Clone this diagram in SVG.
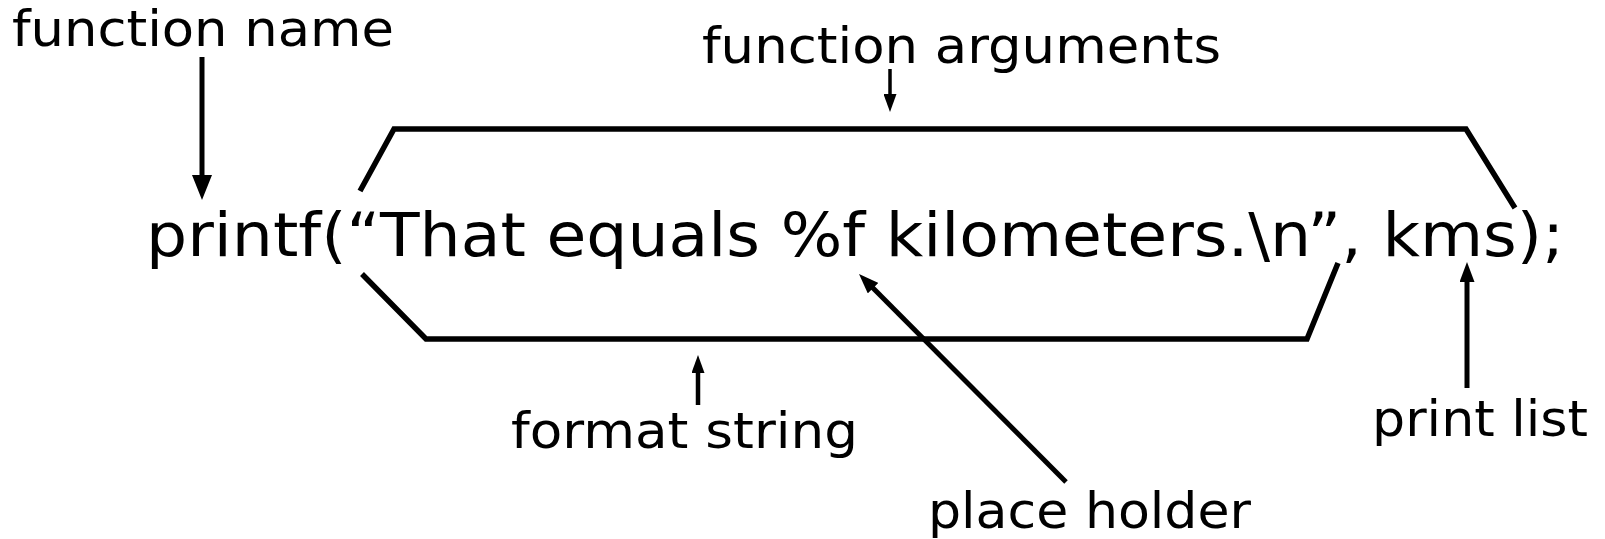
<svg xmlns="http://www.w3.org/2000/svg" width="1605" height="539" viewBox="0 0 1605 539">
<style>
  .lbl { font-family: "DejaVu Sans", "Liberation Sans", sans-serif; font-size: 50px; fill: #000; }
  .code { font-family: "DejaVu Sans", "Liberation Sans", sans-serif; font-size: 61px; fill: #000; }
  .br { fill: none; stroke: #000; stroke-width: 5.5; stroke-linejoin: miter; }
  .ar { fill: none; stroke: #000; }
</style>
<defs>
  <marker id="mBig" markerUnits="userSpaceOnUse" markerWidth="25" markerHeight="20" refX="3" refY="10" orient="auto">
    <path d="M0,0 L25,10 L0,20 z" fill="#000"/>
  </marker>
  <marker id="mMed" markerUnits="userSpaceOnUse" markerWidth="20" markerHeight="15" refX="3" refY="7.5" orient="auto">
    <path d="M0,0 L20,7.5 L0,15 z" fill="#000"/>
  </marker>
  <marker id="mSmall" markerUnits="userSpaceOnUse" markerWidth="18" markerHeight="13" refX="3" refY="6.5" orient="auto">
    <path d="M0,0 L18,6.5 L0,13 z" fill="#000"/>
  </marker>
</defs>
<rect width="1605" height="539" fill="#fff"/>

<g id="code-line">
  <text class="code" x="146" y="256" textLength="1418" lengthAdjust="spacingAndGlyphs">printf(“That equals %f kilometers.\n”, kms);</text>
</g>

<g id="function-name">
  <text class="lbl" x="12" y="46" textLength="382" lengthAdjust="spacingAndGlyphs">function name</text>
</g>
<g id="function-arguments">
  <text class="lbl" x="702" y="63" textLength="519" lengthAdjust="spacingAndGlyphs">function arguments</text>
</g>
<g id="format-string">
  <text class="lbl" x="511" y="448" textLength="347" lengthAdjust="spacingAndGlyphs">format string</text>
</g>
<g id="place-holder">
  <text class="lbl" x="928" y="528" textLength="323" lengthAdjust="spacingAndGlyphs">place holder</text>
</g>
<g id="print-list">
  <text class="lbl" x="1372" y="436" textLength="216" lengthAdjust="spacingAndGlyphs">print list</text>
</g>

<g id="connectors">
  <polyline class="br" points="360,191 394,129 1466,129 1515,208"/>
  <polyline class="br" points="362,274 426,339 1307,339 1338,263"/>
  <line class="ar" stroke-width="5" x1="202" y1="57" x2="202" y2="178" marker-end="url(#mBig)"/>
  <line class="ar" stroke-width="3.5" x1="890" y1="69" x2="890" y2="97" marker-end="url(#mSmall)"/>
  <line class="ar" stroke-width="4.5" x1="698" y1="405" x2="698" y2="370" marker-end="url(#mSmall)"/>
  <line class="ar" stroke-width="5" x1="1467" y1="388" x2="1467" y2="279" marker-end="url(#mMed)"/>
  <line class="ar" stroke-width="5" x1="1066" y1="482" x2="871" y2="286" marker-end="url(#mMed)"/>
</g>
</svg>
